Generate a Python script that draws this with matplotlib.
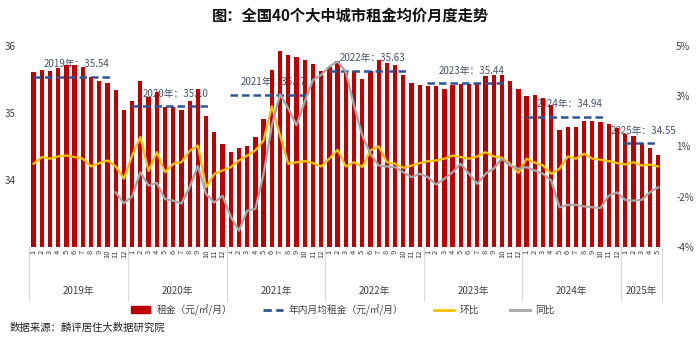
import matplotlib
matplotlib.use("Agg")
import matplotlib.pyplot as plt
from matplotlib.patches import Patch
from matplotlib.lines import Line2D
from matplotlib.transforms import blended_transform_factory

plt.rcParams['font.family'] = ['Noto Sans CJK SC', 'DejaVu Sans']

years = ["2019年", "2020年", "2021年", "2022年", "2023年", "2024年", "2025年"]
months_per_year = [12, 12, 12, 12, 12, 12, 5]
year_avg = [35.54, 35.10, 35.27, 35.63, 35.44, 34.94, 34.55]
avg_labels = ["2019年：35.54", "2020年：35.10", "2021年：35.27", "2022年：35.63",
              "2023年：35.44", "2024年：34.94", "2025年：34.55"]

# monthly rent (元/㎡/月), 2019-01 .. 2025-05
rent = [35.61, 35.64, 35.63, 35.67, 35.71, 35.72, 35.68, 35.54, 35.47, 35.45, 35.34, 35.05,
        35.17, 35.48, 35.23, 35.31, 35.09, 35.09, 35.04, 35.18, 35.35, 34.96, 34.71, 34.54,
        34.42, 34.47, 34.51, 34.64, 34.91, 35.64, 35.93, 35.86, 35.83, 35.79, 35.73, 35.63,
        35.69, 35.77, 35.60, 35.62, 35.50, 35.63, 35.79, 35.75, 35.71, 35.57, 35.45, 35.42,
        35.40, 35.40, 35.35, 35.42, 35.43, 35.43, 35.44, 35.55, 35.57, 35.57, 35.48, 35.36,
        35.25, 35.27, 35.22, 35.12, 34.75, 34.79, 34.79, 34.88, 34.88, 34.87, 34.84, 34.77,
        34.68, 34.65, 34.55, 34.48, 34.37]

# month-on-month %
mom = [-0.28, 0.02, -0.05, 0.05, 0.09, 0.02, -0.05, -0.40, -0.25, -0.13, -0.40, -0.95,
       0.09, 0.92, -0.61, 0.24, -0.66, -0.28, -0.21, 0.30, 0.54, -1.33, -0.73, -0.58,
       -0.43, -0.13, 0.09, 0.32, 0.77, 2.30, 0.99, -0.28, -0.21, -0.16, -0.25, -0.40,
       -0.05, 0.35, -0.40, -0.21, -0.43, 0.32, 0.50, -0.21, -0.28, -0.46, -0.36, -0.25,
       -0.16, -0.13, -0.05, 0.09, 0.02, -0.05, 0.05, 0.24, 0.05, -0.01, -0.28, -0.69,
       -0.05, -0.23, -0.36, -0.73, -0.50, 0.05, -0.05, 0.17, -0.05, -0.10, -0.16, -0.25,
       -0.31, -0.21, -0.36, -0.32, -0.40]

# year-on-year %, starts 2019-11
yoy = [None] * 10 + [
       -1.56, -2.05,
       -1.74, -0.66, -1.26, -1.14, -1.86, -1.93, -2.06, -1.33, -0.38, -1.63, -2.02, -1.71,
       -2.65, -3.28, -2.38, -2.30, -0.73, 1.44, 2.83, 2.20, 1.44, 2.50, 3.47, 3.70,
       4.07, 4.30, 3.85, 2.34, 0.99, 0.17, -0.36, -0.40, -0.43, -0.66, -0.88, -0.73,
       -0.88, -1.21, -0.95, -0.66, -0.28, -0.73, -1.18, -0.73, -0.50, -0.05, -0.36, -0.50,
       -0.43, -0.58, -0.73, -1.03, -2.23, -2.12, -2.12, -2.19, -2.23, -2.26, -1.71, -1.56,
       -1.90, -1.93, -1.90, -1.56, -1.33]

right_ticks = [5, 2.75, 0.5, -1.75, -4]
right_labels = ["5%", "3%", "1%", "-2%", "-4%"]

red = "#C00000"
blue = "#2F5597"
yellow = "#FFC000"
gray = "#A6A6A6"
txt = "#404040"

n = len(rent)
x = list(range(n))
month_labels = []
for m in months_per_year:
    month_labels += [str(i + 1) for i in range(m)]

fig = plt.figure(figsize=(7, 3.4), dpi=100)
ax = fig.add_axes([0.042, 0.274, 0.904, 0.591])
ax2 = ax.twinx()
ax.set_zorder(2)
ax2.set_zorder(1)
ax.patch.set_visible(False)

ax.bar(x, rent, width=0.52, color=red, zorder=3)
ax.set_ylim(33, 36)
ax.set_yticks([34, 35, 36])
ax.set_xlim(-0.5, n - 0.5)

# yearly average dashed lines + labels
start = 0
for m, avg, lab in zip(months_per_year, year_avg, avg_labels):
    x0, x1 = start - 0.1, start + m - 1 - 0.4 - (1.0 if m > 5 else 0.0)
    ax.plot([x0, x1], [avg, avg], color=blue, lw=1.8, dashes=(3, 1.6), zorder=4)
    ax.annotate(lab, ((x0 + x1) / 2 + 0.5, avg), xytext=(0, 9), textcoords="offset points",
                ha="center", va="center", fontsize=7, color="#44546A", zorder=2)
    start += m

ax2.set_ylim(-4, 5)
ax2.set_yticks(right_ticks)
ax2.set_yticklabels(right_labels)

# MoM / YoY lines on the right-axis scale, drawn above the bars
trans = ax2.transData
yx = [i for i, v in enumerate(yoy) if v is not None]
yv = [v for v in yoy if v is not None]
ax.plot(x, mom, color=yellow, lw=1.6, zorder=5, transform=trans)
ax.plot(yx, yv, color=gray, lw=1.6, zorder=5, transform=trans)

for a in (ax, ax2):
    for s in a.spines.values():
        s.set_visible(False)
    a.tick_params(length=0, labelsize=7, colors=txt)
ax.tick_params(axis="y", pad=10)
ax2.tick_params(axis="y", pad=10)

ax.set_xticks(x)
ax.set_xticklabels(month_labels, rotation=90, fontsize=5.5, color=txt, va="top")
ax.tick_params(axis="x", pad=2)
ax.axhline(33, color="#D9D9D9", lw=0.8, zorder=1)

# year separators and labels
bt = blended_transform_factory(ax.transData, ax.transAxes)
start = 0
bounds = [-0.5]
for yl, m in zip(years, months_per_year):
    ax.text(start + (m - 1) / 2, -0.222, yl, transform=bt, ha="center", va="center",
            fontsize=7, color=txt)
    start += m
    bounds.append(start - 0.5)
for b in bounds:
    ax.plot([b, b], [0, -0.27], transform=bt, color="#D9D9D9", lw=0.8, clip_on=False)

handles = [Patch(color=red),
           Line2D([0], [0], color=blue, lw=2, dashes=(3, 1.6)),
           Line2D([0], [0], color=yellow, lw=2),
           Line2D([0], [0], color=gray, lw=2)]
labels = ["租金（元/㎡/月）", "年内月均租金（元/㎡/月）", "环比", "同比"]
fig.legend(handles, labels, loc="center", bbox_to_anchor=(0.49, 0.088), ncol=4,
           frameon=False, fontsize=7, columnspacing=3.2, handlelength=2.0,
           handletextpad=0.6, labelcolor=txt)

fig.text(0.5, 0.955, "图：全国40个大中城市租金均价月度走势", ha="center", va="center",
         fontsize=11, color="#111111", fontweight="bold")
fig.text(0.014, 0.035, "数据来源：麟评居住大数据研究院", ha="left", va="center",
         fontsize=7.5, color="#222222")

fig.savefig("out.png", dpi=100)
